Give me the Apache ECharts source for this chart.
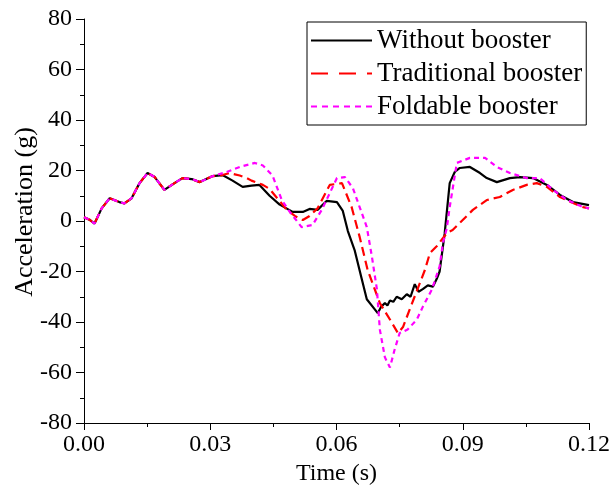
<!DOCTYPE html>
<html>
<head>
<meta charset="utf-8">
<title>Acceleration vs time</title>
<script src="https://cdn.jsdelivr.net/npm/echarts@6/dist/echarts.min.js"></script>
<style>
  html, body { margin: 0; padding: 0; background: #fff; }
  #chart { width: 614px; height: 497px; }
</style>
</head>
<body>
<div id="chart"></div>
<script>
// shared start of all three curves (they overlap until ~0.03 s)
const timeStart = [0, 0.0013, 0.0025, 0.0042, 0.0061, 0.0084, 0.0096, 0.0113, 0.0132, 0.0151, 0.0168, 0.0191, 0.0215, 0.0234, 0.0256, 0.0275, 0.0306];
const accStart = [1.5, 0.5, -1, 5, 9, 7.5, 7, 9, 15, 19, 17.4, 12.3, 15, 17, 16.6, 15.4, 17.8];

const timeWithout = [0.0329, 0.0353, 0.0377, 0.0398, 0.0417, 0.0441, 0.0465, 0.0496, 0.0520, 0.0536, 0.0555, 0.0577, 0.0601, 0.0615, 0.0627, 0.0643, 0.0660, 0.0672, 0.0691, 0.0698, 0.0706, 0.0715, 0.0721, 0.0727, 0.0735, 0.0743, 0.0755, 0.0767, 0.0776, 0.0786, 0.0795, 0.0805, 0.0817, 0.0829, 0.0838, 0.0845, 0.0857, 0.0869, 0.0881, 0.0893, 0.0917, 0.0941, 0.0957, 0.0981, 0.1012, 0.1036, 0.1067, 0.1100, 0.1131, 0.1162, 0.1200];
const accWithout = [18.2, 16, 13.5, 14, 14.3, 10, 6.5, 3.6, 3.6, 4.8, 4.4, 8, 7.5, 4, -4, -11.5, -23, -31, -35, -36.5, -34, -32.5, -33.5, -31.5, -32, -30, -31, -29, -30, -25, -28, -27, -25.5, -26, -23, -20, -5, 15, 19.4, 21, 21.4, 19, 17, 15.4, 17, 17.4, 17, 14.3, 10.3, 7.5, 6.3];

const timeTraditional = [0.0329, 0.0346, 0.0370, 0.0387, 0.0398, 0.0425, 0.0441, 0.0482, 0.0501, 0.0520, 0.0536, 0.0555, 0.0584, 0.0613, 0.0636, 0.0655, 0.0674, 0.0703, 0.0727, 0.0746, 0.0758, 0.0774, 0.0798, 0.0810, 0.0822, 0.0838, 0.0862, 0.0876, 0.0900, 0.0924, 0.0957, 0.0988, 0.1019, 0.1052, 0.1076, 0.1100, 0.1131, 0.1162, 0.1186, 0.1200];
const accTraditional = [18.2, 19, 18, 17, 16, 14.3, 12.7, 4.4, 2, 0.4, 2, 5, 14.3, 15, 5.5, -6.3, -19.4, -32.5, -39, -44.4, -42, -35, -24.6, -19.4, -12.7, -10, -4.8, -3.6, 0.4, 4.4, 8.3, 9.5, 12.3, 14.3, 15, 13.5, 9.5, 7.1, 5.5, 5];

const timeFoldable = [0.0339, 0.0370, 0.0406, 0.0425, 0.0448, 0.0470, 0.0489, 0.0517, 0.0543, 0.0565, 0.0601, 0.0620, 0.0639, 0.0655, 0.0672, 0.0684, 0.0696, 0.0703, 0.0715, 0.0727, 0.0738, 0.0750, 0.0769, 0.0791, 0.0805, 0.0827, 0.0845, 0.0853, 0.0862, 0.0869, 0.0886, 0.0917, 0.0953, 0.0981, 0.1012, 0.1052, 0.1083, 0.1115, 0.1148, 0.1186, 0.1200];
const accFoldable = [19.4, 21.4, 23, 22, 18, 8.3, 3.6, -2.4, -1.6, 4.4, 17, 17.4, 13, 5.5, -2.4, -14, -27, -43, -54, -58, -51, -44.4, -43, -39, -34, -27, -18, -8.7, -3, 5.5, 23, 25, 25, 21.4, 19, 17, 17, 12.3, 8.3, 5.5, 5];

const seriesNames = ['Without booster', 'Traditional booster', 'Foldable booster'];
const xTicks = [0, 0.03, 0.06, 0.09, 0.12];

const toPairs = (t, v) => t.map((x, i) => [x, v[i]]);
const withStart = (t, v) => toPairs(timeStart.concat(t), accStart.concat(v));

const font = '"Liberation Serif", "Times New Roman", serif';

const chart = echarts.init(document.getElementById('chart'), null, { renderer: 'canvas' });

// legend shows only the line sample, no marker dot
const hiddenDot = { opacity: 0 };

chart.setOption({
  animation: false,
  backgroundColor: '#fff',
  grid: {
    left: 84,
    right: 25,
    top: 19,
    bottom: 74,
    containLabel: false,
    outerBoundsMode: 'none'
  },
  legend: {
    orient: 'vertical',
    left: 307,
    top: 22,
    width: 290,
    height: 100,
    padding: [5, 4, 5, 3],
    itemGap: 6,
    itemWidth: 61,
    itemHeight: 14,
    borderColor: '#000',
    borderWidth: 1,
    borderRadius: 0,
    itemStyle: hiddenDot,
    textStyle: {
      fontFamily: font,
      fontSize: 27,
      lineHeight: 27,
      color: '#000'
    },
    data: [
      { name: seriesNames[0], itemStyle: hiddenDot, lineStyle: { color: '#000', width: 2, type: 'solid' } },
      { name: seriesNames[1], itemStyle: hiddenDot, lineStyle: { color: '#f00', width: 2, type: [17, 11] } },
      { name: seriesNames[2], itemStyle: hiddenDot, lineStyle: { color: '#f0f', width: 2, type: [6, 5] } }
    ]
  },
  xAxis: {
    type: 'value',
    min: 0,
    max: 0.12,
    interval: 0.03,
    name: 'Time (s)',
    nameLocation: 'middle',
    nameGap: 37,
    nameTextStyle: { fontFamily: font, fontSize: 24, color: '#000' },
    axisLine: { onZero: false, lineStyle: { color: '#000', width: 1 } },
    axisTick: { show: true, inside: false, length: 7, lineStyle: { color: '#000' } },
    minorTick: { show: true, splitNumber: 2, length: 4, lineStyle: { color: '#000' } },
    splitLine: { show: false },
    axisLabel: {
      fontFamily: font,
      fontSize: 24,
      color: '#000',
      margin: 10,
      formatter: v => xTicks.some(t => Math.abs(t - v) < 1e-9) ? v.toFixed(2) : ''
    }
  },
  yAxis: {
    type: 'value',
    min: -80,
    max: 80,
    interval: 20,
    name: 'Acceleration (g)',
    nameLocation: 'middle',
    nameGap: 46,
    nameMoveOverlap: false,
    nameTextStyle: { fontFamily: font, fontSize: 26, color: '#000', padding: [0, 0, 0, 18] },
    axisLine: { show: true, onZero: false, lineStyle: { color: '#000', width: 1 } },
    axisTick: { show: true, inside: false, length: 8, lineStyle: { color: '#000' } },
    minorTick: { show: true, splitNumber: 2, length: 4, lineStyle: { color: '#000' } },
    splitLine: { show: false },
    axisLabel: { fontFamily: font, fontSize: 24, color: '#000', margin: 12 }
  },
  series: [
    {
      name: seriesNames[0],
      type: 'line',
      showSymbol: false,
      symbol: 'none',
      lineStyle: { color: '#000', width: 2.2 },
      itemStyle: { color: '#000' },
      data: withStart(timeWithout, accWithout),
      z: 3
    },
    {
      name: seriesNames[1],
      type: 'line',
      showSymbol: false,
      symbol: 'none',
      lineStyle: { color: '#f00', width: 2.2, type: [9, 5] },
      itemStyle: { color: '#f00' },
      data: withStart(timeTraditional, accTraditional),
      z: 4
    },
    {
      name: seriesNames[2],
      type: 'line',
      showSymbol: false,
      symbol: 'none',
      lineStyle: { color: '#f0f', width: 2.2, type: [5, 4] },
      itemStyle: { color: '#f0f' },
      data: withStart(timeFoldable, accFoldable),
      z: 5
    }
  ]
});
</script>
</body>
</html>
